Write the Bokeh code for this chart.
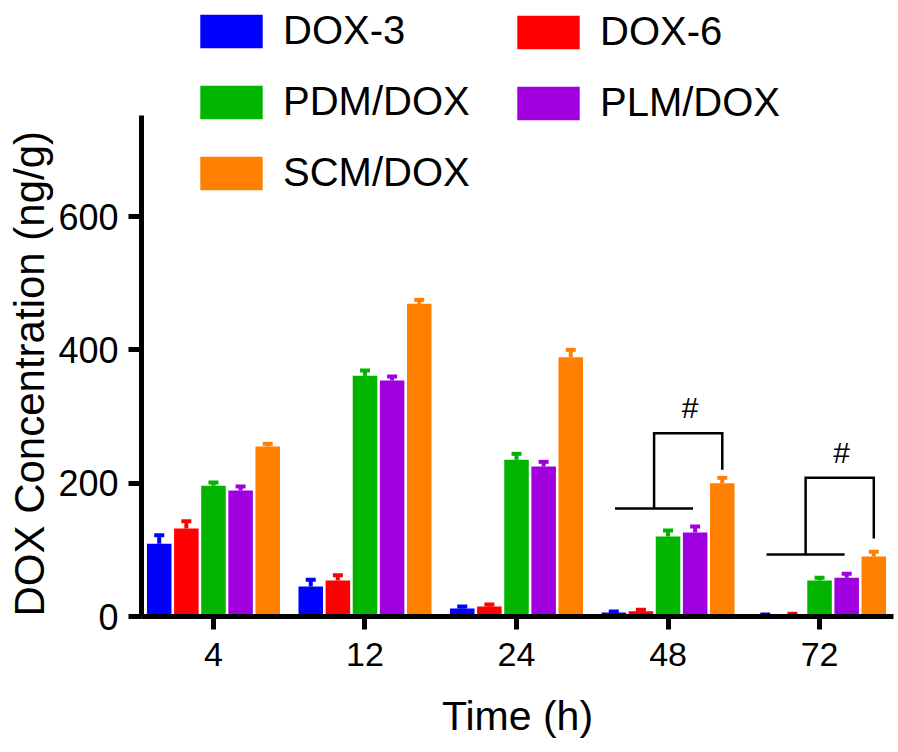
from bokeh.plotting import figure
from bokeh.models import Range1d, FixedTicker, Legend, LegendItem, Title
from bokeh.embed import file_html
from bokeh.resources import INLINE
from bokeh.core.properties import value

# ---- data ----
time_labels = ["4", "12", "24", "48", "72"]
series = ["DOX-3", "DOX-6", "PDM/DOX", "PLM/DOX", "SCM/DOX"]
colors = ["#0000FF", "#FF0000", "#00B400", "#A000E0", "#FF8000"]

dox3 = [109, 45, 12, 6, 2]
dox3_sd = [13, 10, 3, 1.5, 1]
dox6 = [132, 54, 15, 8, 3]
dox6_sd = [11, 8, 3, 2, 1]
pdm = [196, 361, 235, 120, 54]
pdm_sd = [5, 8, 9, 9, 4]
plm = [189, 354, 225, 126, 58]
plm_sd = [6, 6, 7, 9, 6]
scm = [255, 469, 389, 200, 90]
scm_sd = [4, 6, 11, 8, 7]

values = [dox3, dox6, pdm, plm, scm]
sds = [dox3_sd, dox6_sd, pdm_sd, plm_sd, scm_sd]

# significance brackets (group index, base line, top line, right drop end)
sig_groups = [3, 4]
sig_base = [162, 93]
sig_top = [275, 208]
sig_end = [220, 117]
sig_text = ["#", "#"]

x_title = "Time (h)"
y_title = "DOX Concentration (ng/g)"
y_ticks = [0, 200, 400, 600]

FONT = "Liberation Sans"

p = figure(width=898, height=752, output_backend="svg", toolbar_location=None,
           x_range=Range1d(-0.475, 4.488), y_range=Range1d(0, 924),
           min_border_left=141, min_border_right=5, min_border_top=0,
           min_border_bottom=136)
p.outline_line_color = None
p.grid.grid_line_color = None
p.background_fill_color = "white"

pitch = 0.179
bar_w = 0.162
cap_half = 0.033
n = len(time_labels)
renderers = []
for i, (vals, sd, col) in enumerate(zip(values, sds, colors)):
    off = (i - 2) * pitch
    xs = [k + off for k in range(n)]
    tops = [v + s for v, s in zip(vals, sd)]
    r = p.vbar(x=xs, top=vals, bottom=0, width=bar_w, fill_color=col, line_color=None)
    p.segment(x0=xs, y0=vals, x1=xs, y1=tops, line_color=col, line_width=4)
    p.segment(x0=[x - cap_half for x in xs], y0=tops, x1=[x + cap_half for x in xs], y1=tops,
              line_color=col, line_width=4)
    renderers.append(r)

# significance brackets
for g, b, t, e, s in zip(sig_groups, sig_base, sig_top, sig_end, sig_text):
    p.line(x=[g - 0.35, g + 0.165], y=[b, b], line_color="black", line_width=2.5)
    p.line(x=[g - 0.092, g - 0.092, g + 2 * pitch, g + 2 * pitch], y=[b, t, t, e],
           line_color="black", line_width=2.5, line_join="miter")
    p.text(x=[g + 0.145], y=[t + 38], text=[s], text_align="center", text_baseline="middle",
           text_font=value(FONT), text_font_size="30px", text_color="black")

# axes
for ax in (p.xaxis[0], p.yaxis[0]):
    ax.axis_line_width = 5
    ax.axis_line_color = "black"
    ax.major_tick_line_width = 5
    ax.major_tick_line_color = "black"
    ax.major_tick_in = 0
    ax.major_tick_out = 13
    ax.minor_tick_line_color = None
    ax.major_label_text_font = FONT
    ax.major_label_text_color = "black"
    ax.axis_label_text_font = FONT
    ax.axis_label_text_font_size = "41px"
    ax.axis_label_text_font_style = "normal"
    ax.axis_label_text_color = "black"

p.xaxis.ticker = FixedTicker(ticks=list(range(n)))
p.xaxis.major_label_overrides = {k: lab for k, lab in enumerate(time_labels)}
p.xaxis.axis_label = x_title
p.xaxis.major_label_text_font_size = "34px"
p.xaxis.major_label_standoff = 13
p.xaxis.axis_label_standoff = 24
p.xaxis.bounds = (-0.56, 4.488)

p.yaxis.ticker = FixedTicker(ticks=y_ticks)
p.yaxis.bounds = (0, 752)
p.yaxis.major_label_text_font_size = "36px"
p.yaxis.major_label_standoff = 10

# y title as a side title, starting from the bottom of the axis
p.add_layout(Title(text=y_title, align="left", offset=0, standoff=5,
                   text_font=FONT, text_font_size="42px", text_font_style="normal",
                   text_color="black"), "left")

def make_legend(idx, loc):
    leg = Legend(items=[LegendItem(label=series[i], renderers=[renderers[i]]) for i in idx],
                 location=loc, orientation="vertical")
    leg.border_line_color = None
    leg.background_fill_alpha = 0
    leg.padding = 0
    leg.margin = 0
    leg.spacing = 26
    leg.glyph_width = 78
    leg.glyph_height = 42
    leg.label_height = 42
    leg.label_standoff = 13
    leg.label_text_font = FONT
    leg.label_text_font_size = "40px"
    leg.label_text_color = "black"
    return leg

p.add_layout(make_legend([0, 2, 4], (51, 421)))
p.add_layout(make_legend([1, 3], (368, 491)))

open("out.html", "w").write(file_html(p, INLINE))
